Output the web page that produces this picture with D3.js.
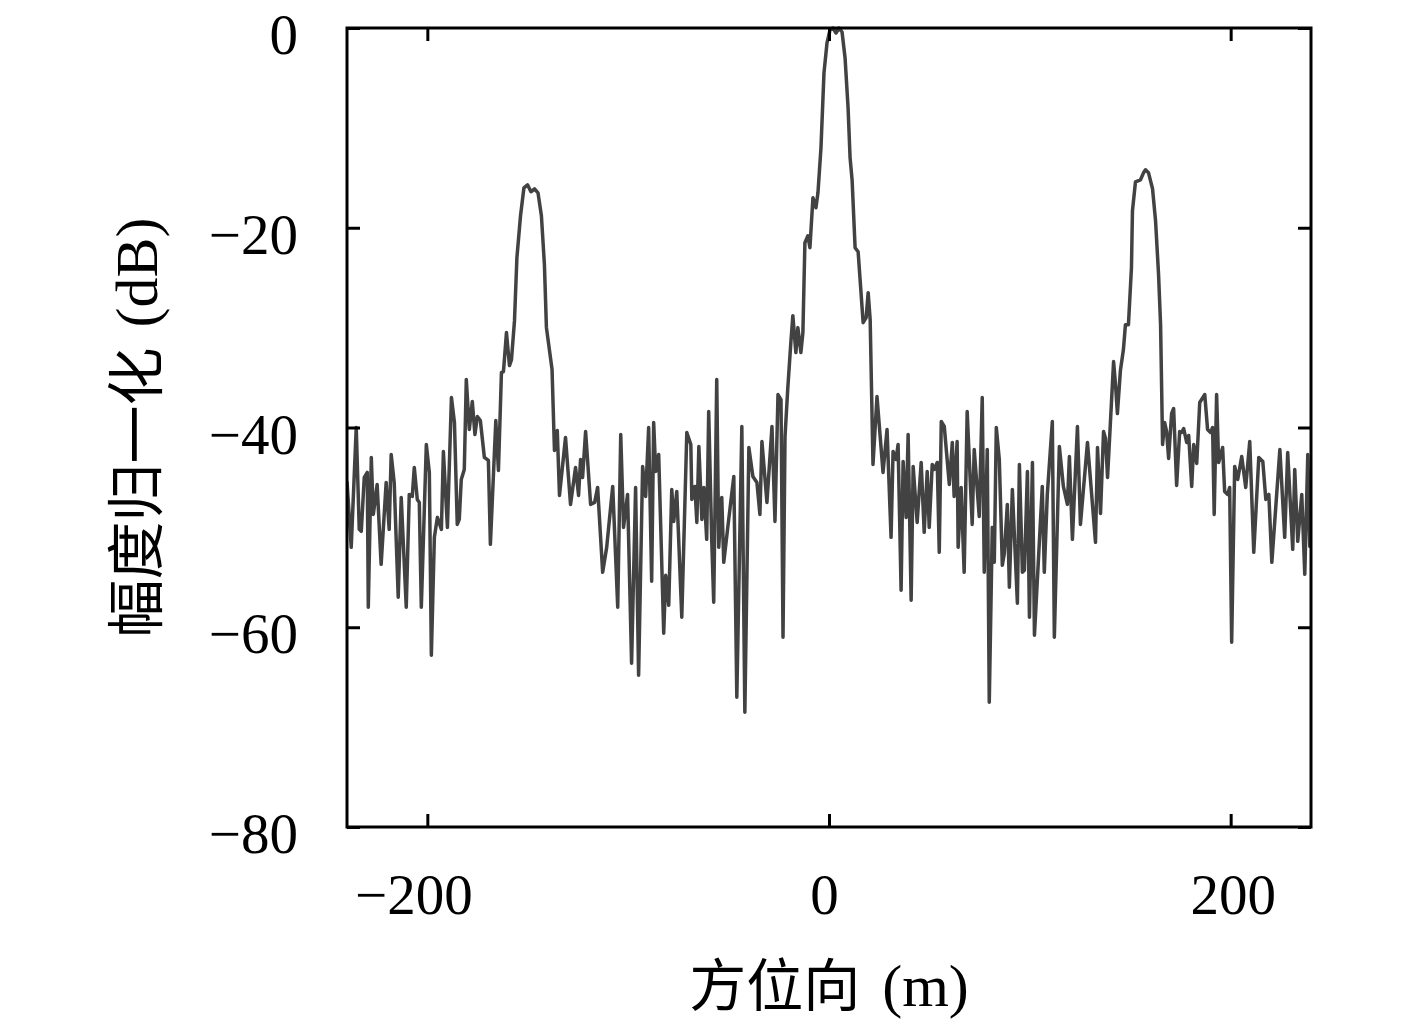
<!DOCTYPE html>
<html>
<head>
<meta charset="utf-8">
<script src="https://cdn.jsdelivr.net/npm/d3@7"></script>
<style>
  html, body { margin: 0; padding: 0; background: #fff; }
  svg { display: block; }
</style>
</head>
<body>
<svg id="chart" width="1417" height="1028"></svg>
<script>
// ---- data ----
const xTicks = [-200, 0, 200];
const yTicks = [0, -20, -40, -60, -80];
const xLabelCJK = "方位向";
const xLabelUnit = "(m)";
const yLabelCJK = "幅度归一化";
const yLabelUnit = "(dB)";

const azimuth = [
  -240.0, -237.9, -235.4, -233.9, -232.9, -231.4, -229.9, -229.4, -227.9, -226.9,
  -225.0, -223.0, -220.5, -219.0, -218.0, -216.5, -214.5, -213.0, -210.5, -209.0,
  -207.5, -206.5, -205.0, -204.0, -203.0, -200.5, -199.0, -198.0, -196.5, -195.0,
  -193.0, -192.0, -190.0, -188.0, -186.5, -185.1, -184.1, -183.1, -181.6, -180.6,
  -179.1, -177.6, -176.3, -175.1, -173.6, -171.6, -169.6, -168.6, -165.9, -164.6,
  -163.1, -162.1, -160.6, -159.1, -158.1, -156.6, -155.4, -153.6, -151.9, -150.1,
  -148.4, -146.6, -144.9, -143.2, -141.7, -140.7, -137.9, -136.7, -135.3, -134.2,
  -131.2, -128.7, -126.2, -124.7, -123.7, -122.7, -121.2, -118.7, -116.7, -115.2,
  -112.7, -110.7, -107.7, -105.2, -103.7, -102.3, -100.3, -98.3, -96.3, -94.8,
  -92.8, -91.3, -89.8, -88.3, -87.3, -86.3, -84.8, -82.3, -81.3, -79.8,
  -78.3, -77.3, -75.8, -73.3, -70.8, -68.8, -68.3, -66.8, -65.8, -64.8,
  -63.3, -62.3, -60.9, -59.9, -58.4, -57.4, -55.9, -54.9, -53.4, -52.4,
  -50.4, -47.4, -45.9, -43.4, -41.9, -39.9, -37.9, -35.9, -34.4, -33.4,
  -30.9, -28.4, -26.9, -25.4, -23.9, -22.9, -21.9, -20.5, -19.0, -18.0,
  -16.5, -15.5, -14.0, -13.0, -12.0, -10.5, -9.5, -8.0, -6.5, -5.5,
  -4.0, -2.5, -1.0, 0.5, 2.0, 3.5, 5.0, 6.5, 8.0, 9.5,
  10.5, 11.5, 13.0, 14.5, 17.0, 18.5, 19.5, 20.5, 21.9, 23.9,
  26.9, 28.9, 30.9, 31.9, 33.4, 34.4, 35.9, 36.9, 38.4, 39.4,
  40.9, 41.9, 43.9, 45.9, 47.4, 48.9, 49.9, 51.4, 52.4, 53.9,
  54.9, 55.9, 57.4, 59.9, 61.4, 62.3, 63.8, 64.3, 65.8, 67.3,
  68.8, 71.3, 72.3, 74.8, 76.3, 77.3, 78.8, 79.8, 81.3, 82.3,
  83.3, 84.8, 86.3, 87.3, 88.8, 89.8, 91.3, 93.8, 94.8, 96.3,
  97.3, 98.8, 99.8, 101.3, 102.3, 106.2, 107.2, 108.7, 111.2, 112.2,
  114.7, 116.7, 118.7, 119.7, 121.2, 123.7, 125.2, 128.7, 132.7, 133.7,
  135.2, 136.7, 137.7, 138.7, 141.7, 142.7, 143.6, 145.1, 146.6, 147.6,
  149.1, 150.6, 151.1, 152.6, 155.1, 156.6, 157.6, 159.1, 161.1, 162.6,
  164.1, 165.1, 166.1, 167.1, 168.1, 169.1, 170.6, 171.6, 173.1, 174.6,
  175.6, 176.6, 178.1, 179.1, 180.6, 181.6, 183.1, 184.6, 187.1, 188.5,
  190.0, 191.0, 191.8, 193.0, 194.0, 196.0, 197.0, 198.5, 199.5, 200.5,
  202.0, 203.5, 205.5, 207.5, 209.5, 211.5, 214.0, 216.0, 217.5, 219.0,
  220.5, 224.5, 226.9, 228.4, 230.9, 231.9, 233.4, 235.4, 236.9, 238.4,
  239.4, 240.0
];

const amplitude = [
  -45.4, -52.0, -40.0, -50.2, -50.4, -45.0, -44.5, -58.0, -43.0, -48.7,
  -45.7, -53.7, -45.5, -50.2, -42.7, -45.5, -57.0, -47.0, -58.0, -46.7,
  -46.9, -44.0, -47.2, -47.5, -58.0, -41.7, -44.5, -62.8, -51.0, -49.0,
  -50.2, -42.4, -50.0, -37.0, -39.5, -49.7, -49.2, -45.2, -44.2, -35.2,
  -40.2, -37.4, -40.7, -38.9, -39.3, -43.0, -43.3, -51.7, -39.3, -44.3,
  -34.5, -34.4, -30.5, -33.8, -33.2, -29.3, -23.0, -18.8, -16.0, -15.7,
  -16.4, -16.1, -16.5, -18.8, -23.7, -30.0, -34.2, -42.3, -40.3, -46.8,
  -41.0, -47.7, -44.0, -46.8, -43.2, -45.0, -40.4, -47.7, -47.5, -46.0,
  -54.5, -52.0, -45.9, -58.0, -40.7, -50.0, -46.7, -63.6, -46.0, -64.8,
  -43.9, -46.9, -40.0, -55.4, -39.5, -44.4, -42.7, -60.6, -54.8, -57.8,
  -46.2, -49.4, -46.4, -59.0, -40.5, -41.7, -47.2, -45.9, -49.5, -41.9,
  -49.2, -46.0, -51.2, -38.4, -51.2, -57.5, -35.2, -52.0, -47.0, -53.5,
  -50.0, -44.9, -67.0, -39.9, -68.5, -42.0, -44.9, -45.5, -48.7, -41.4,
  -47.5, -39.9, -49.4, -36.7, -37.2, -61.0, -40.9, -36.0, -31.5, -28.8,
  -32.5, -30.0, -32.5, -30.5, -21.5, -20.8, -22.0, -17.0, -18.0, -16.5,
  -12.0, -4.5, -1.5, -0.2, 0.0, -0.5, 0.0, -0.4, -3.0, -8.0,
  -13.0, -15.2, -22.0, -22.4, -29.5, -29.0, -26.5, -29.2, -43.7, -36.9,
  -44.5, -40.2, -51.0, -42.4, -43.2, -41.7, -56.3, -43.4, -49.0, -40.7,
  -57.3, -43.9, -49.5, -43.5, -50.5, -44.4, -50.0, -43.7, -44.2, -43.5,
  -52.5, -39.4, -39.9, -45.7, -41.5, -46.9, -41.4, -52.0, -46.0, -54.5,
  -38.4, -49.7, -42.2, -48.9, -37.0, -54.5, -42.2, -67.5, -50.0, -53.5,
  -40.0, -43.2, -53.8, -52.6, -47.7, -56.0, -46.2, -57.6, -43.7, -54.5,
  -54.3, -44.4, -59.0, -43.5, -60.8, -45.9, -54.5, -46.7, -39.4, -61.0,
  -41.9, -45.9, -47.7, -42.9, -51.2, -39.9, -49.7, -41.5, -51.5, -42.0,
  -48.6, -40.4, -41.1, -45.0, -33.4, -35.8, -38.6, -34.3, -32.2, -29.7,
  -29.7, -24.0, -18.3, -15.4, -15.2, -14.5, -14.2, -14.5, -16.1, -19.3,
  -24.7, -29.7, -41.7, -39.5, -40.4, -43.1, -38.6, -38.1, -45.8, -40.4,
  -40.5, -40.1, -41.5, -40.8, -45.9, -41.7, -43.6, -37.5, -36.7, -40.2,
  -40.5, -40.0, -48.7, -36.7, -43.5, -42.0, -46.4, -46.7, -46.0, -61.5,
  -43.9, -45.2, -42.9, -46.0, -41.4, -52.5, -43.0, -43.4, -47.2, -46.7,
  -53.5, -42.2, -51.0, -42.5, -52.2, -44.2, -51.4, -46.7, -54.7, -42.7,
  -51.9, -49.5
];

// ---- layout ----
const svg = d3.select("#chart");
const plotL = 347, plotR = 1311, plotT = 28, plotB = 827;
const serif = "'Liberation Serif', 'Times New Roman', serif";
const cjk = "'Noto Sans CJK SC', 'Noto Sans CJK JP', sans-serif";
const fontSize = 57;

const x = d3.scaleLinear().domain([-240, 240]).range([plotL, plotR]);
const y = d3.scaleLinear().domain([-80, 0]).range([plotB, plotT]);

const fmt = d => (d < 0 ? "\u2212" + Math.abs(d) : String(d));

svg.append("rect").attr("width", 1417).attr("height", 1028).attr("fill", "#fff");

svg.append("clipPath").attr("id", "plotclip")
  .append("rect").attr("x", plotL).attr("y", plotT - 4)
  .attr("width", plotR - plotL).attr("height", plotB - plotT + 8);

const data = azimuth.map((a, i) => [a, amplitude[i]]);
const line = d3.line().x(d => x(d[0])).y(d => y(d[1]));

svg.append("path")
  .datum(data)
  .attr("clip-path", "url(#plotclip)")
  .attr("fill", "none")
  .attr("stroke", "#424242")
  .attr("stroke-width", 3.5)
  .attr("stroke-linejoin", "round")
  .attr("d", line);

const tickLen = 13;
function styleAxis(g) {
  g.select(".domain").remove();
  g.selectAll(".tick line").attr("stroke", "#000").attr("stroke-width", 3);
  g.selectAll(".tick text").attr("font-family", serif).attr("font-size", fontSize).attr("fill", "#000");
}

const gb = svg.append("g").attr("transform", `translate(0,${plotB})`)
  .call(d3.axisBottom(x).tickValues(xTicks).tickSize(-tickLen).tickPadding(47).tickFormat(fmt))
  .call(styleAxis);
gb.selectAll(".tick text").attr("dx", d => d < 0 ? -14 : (d === 0 ? -5 : 2));

svg.append("g").attr("transform", `translate(0,${plotT})`)
  .call(d3.axisTop(x).tickValues(xTicks).tickSize(-tickLen).tickFormat(""))
  .call(styleAxis);

const gl = svg.append("g").attr("transform", `translate(${plotL},0)`)
  .call(d3.axisLeft(y).tickValues(yTicks).tickSize(-tickLen).tickPadding(49).tickFormat(fmt))
  .call(styleAxis);
gl.selectAll(".tick text").attr("dy", "0.45em");

svg.append("g").attr("transform", `translate(${plotR},0)`)
  .call(d3.axisRight(y).tickValues(yTicks).tickSize(-tickLen).tickFormat(""))
  .call(styleAxis);

// frame
svg.append("rect")
  .attr("x", plotL).attr("y", plotT)
  .attr("width", plotR - plotL).attr("height", plotB - plotT)
  .attr("fill", "none").attr("stroke", "#000").attr("stroke-width", 3);

// x axis title
const xt = svg.append("text")
  .attr("x", (plotL + plotR) / 2).attr("y", 1006)
  .attr("text-anchor", "middle").attr("fill", "#000");
xt.append("tspan").attr("font-family", cjk).attr("font-size", 57).text(xLabelCJK);
xt.append("tspan").attr("font-family", serif).attr("font-size", 60).attr("dx", 22).text(xLabelUnit);

// y axis title
const yt = svg.append("text")
  .attr("transform", `translate(157,${(plotT + plotB) / 2}) rotate(-90)`)
  .attr("text-anchor", "middle").attr("fill", "#000");
yt.append("tspan").attr("font-family", cjk).attr("font-size", 58).text(yLabelCJK);
yt.append("tspan").attr("font-family", serif).attr("font-size", 60).attr("dx", 20).text(yLabelUnit);
</script>
</body>
</html>
